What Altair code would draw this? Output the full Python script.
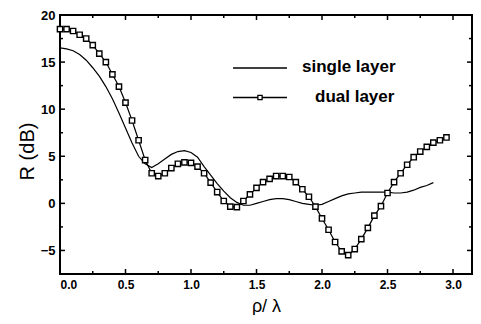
import altair as alt
import pandas as pd

# ---- data ----
x_dual = [0.00, 0.05, 0.10, 0.15, 0.20, 0.25, 0.30, 0.35, 0.40, 0.45,
          0.50, 0.55, 0.60, 0.65, 0.70, 0.75, 0.80, 0.85, 0.90, 0.95,
          1.00, 1.05, 1.10, 1.15, 1.20, 1.25, 1.30, 1.35, 1.40, 1.45,
          1.50, 1.55, 1.60, 1.65, 1.70, 1.75, 1.80, 1.85, 1.90, 1.95,
          2.00, 2.05, 2.10, 2.15, 2.20, 2.25, 2.30, 2.35, 2.40, 2.45,
          2.50, 2.55, 2.60, 2.65, 2.70, 2.75, 2.80, 2.85, 2.90, 2.95]
r_dual = [18.5, 18.5, 18.3, 17.9, 17.5, 16.8, 15.9, 15.0, 13.7, 12.4,
          10.7, 8.8, 6.7, 4.6, 3.2, 2.9, 3.2, 3.75, 4.2, 4.35,
          4.3, 3.9, 3.2, 2.2, 1.2, 0.25, -0.35, -0.4, 0.25, 0.95,
          1.65, 2.25, 2.6, 2.9, 2.9, 2.8, 2.25, 1.5, 0.7, -0.35,
          -1.6, -2.8, -4.1, -5.1, -5.5, -4.85, -3.8, -2.6, -1.3, -0.3,
          1.1, 2.25, 3.2, 4.1, 4.9, 5.5, 6.0, 6.45, 6.7, 7.0]

x_single = [0.00, 0.05, 0.10, 0.15, 0.20, 0.25, 0.30, 0.35, 0.40, 0.45,
            0.50, 0.55, 0.60, 0.65, 0.70, 0.75, 0.80, 0.85, 0.90, 0.95,
            1.00, 1.05, 1.10, 1.15, 1.20, 1.25, 1.30, 1.35, 1.40, 1.45,
            1.50, 1.55, 1.60, 1.65, 1.70, 1.75, 1.80, 1.85, 1.90, 1.95,
            2.00, 2.05, 2.10, 2.15, 2.20, 2.25, 2.30, 2.35, 2.40, 2.45,
            2.50, 2.55, 2.60, 2.65, 2.70, 2.75, 2.80, 2.85]
r_single = [16.5, 16.4, 16.2, 15.8, 15.2, 14.4, 13.5, 12.4, 11.1, 9.6,
            8.0, 6.4, 5.0, 4.2, 3.8, 4.2, 4.7, 5.2, 5.5, 5.6,
            5.4, 4.9, 3.9, 3.0, 2.1, 1.3, 0.6, 0.1, -0.2, -0.2,
            0.0, 0.2, 0.4, 0.5, 0.5, 0.4, 0.2, 0.0, -0.1, -0.2,
            -0.1, 0.2, 0.5, 0.8, 1.0, 1.1, 1.2, 1.2, 1.2, 1.2,
            1.2, 1.1, 1.1, 1.2, 1.4, 1.7, 1.9, 2.2]

x_major = [0.0, 0.5, 1.0, 1.5, 2.0, 2.5, 3.0]
x_minor = [0.25, 0.75, 1.25, 1.75, 2.25, 2.75]
y_major = [-5, 0, 5, 10, 15, 20]
y_minor = [-2.5, 2.5, 7.5, 12.5, 17.5]

legend_labels = ["single layer", "dual layer"]

W, H = 412, 259
FONT = "Liberation Sans"

xscale = alt.Scale(domain=[0, 3.145], nice=False, zero=False)
yscale = alt.Scale(domain=[-7.5, 20], nice=False, zero=False)

df_s = pd.DataFrame({"x": x_single, "r": r_single})
df_d = pd.DataFrame({"x": x_dual, "r": r_dual})

xaxis = alt.Axis(values=x_major, format=".1f", ticks=False, domain=False, grid=False,
                 labelFont=FONT, labelFontSize=12, labelFontWeight="bold", labelColor="black",
                 labelPadding=5, title="ρ/ λ", titleFont=FONT, titleFontSize=18,
                 titleFontWeight="normal", titleColor="black",
                 titleBaseline="alphabetic", titleY=37.5)
yaxis = alt.Axis(values=y_major, ticks=False, domain=False, grid=False,
                 labelFont=FONT, labelFontSize=13, labelFontWeight="bold", labelColor="black",
                 labelPadding=5, title="R (dB)", titleFont=FONT, titleFontSize=20,
                 titleFontWeight="normal", titleColor="black",
                 titleBaseline="alphabetic", titleX=-27, titleY=136)

base_single = alt.Chart(df_s).mark_line(color="black", strokeWidth=1.2).encode(
    x=alt.X("x:Q", scale=xscale, axis=xaxis),
    y=alt.Y("r:Q", scale=yscale, axis=yaxis),
)
dual_line = alt.Chart(df_d).mark_line(color="black", strokeWidth=1.2).encode(
    x=alt.X("x:Q", scale=xscale), y=alt.Y("r:Q", scale=yscale))
dual_pts = alt.Chart(df_d).mark_point(shape="square", size=28, filled=False,
                                       color="black", fill="white", fillOpacity=1,
                                       strokeWidth=1.4, opacity=1).encode(
    x=alt.X("x:Q", scale=xscale), y=alt.Y("r:Q", scale=yscale))

# inward ticks
def xticks(vals, length, top):
    d = pd.DataFrame({"v": vals})
    if top:
        return alt.Chart(d).mark_rule(color="black", strokeWidth=1.5).encode(
            x=alt.X("v:Q", scale=xscale), y=alt.value(0), y2=alt.value(length))
    return alt.Chart(d).mark_rule(color="black", strokeWidth=1.5).encode(
        x=alt.X("v:Q", scale=xscale), y=alt.value(H), y2=alt.value(H - length))

def yticks(vals, length, right):
    d = pd.DataFrame({"v": vals})
    if right:
        return alt.Chart(d).mark_rule(color="black", strokeWidth=1.5).encode(
            y=alt.Y("v:Q", scale=yscale), x=alt.value(W), x2=alt.value(W - length))
    return alt.Chart(d).mark_rule(color="black", strokeWidth=1.5).encode(
        y=alt.Y("v:Q", scale=yscale), x=alt.value(0), x2=alt.value(length))

ticks = [xticks(x_major, 5, False), xticks(x_minor, 3, False),
         xticks(x_major, 5, True), xticks(x_minor, 3, True),
         yticks(y_major, 5, False), yticks(y_minor, 3, False),
         yticks(y_major, 5, True), yticks(y_minor, 3, True)]

# legend (drawn manually)
one = pd.DataFrame({"k": [0]})
leg_single_line = alt.Chart(one).mark_rule(color="black", strokeWidth=1.3).encode(
    x=alt.value(173), x2=alt.value(227), y=alt.value(53))
leg_dual_line = alt.Chart(one).mark_rule(color="black", strokeWidth=1.6).encode(
    x=alt.value(173), x2=alt.value(227), y=alt.value(82.5))
leg_dual_pt = alt.Chart(one).mark_point(
    shape="square", size=18, filled=False, color="black", fill="white", fillOpacity=1,
    strokeWidth=1.3, opacity=1).encode(x=alt.value(200), y=alt.value(82.5))
leg_t1 = alt.Chart(pd.DataFrame({"t": [legend_labels[0]]})).mark_text(
    align="left", baseline="alphabetic", font=FONT, fontSize=17, fontWeight="bold",
    color="black").encode(text="t:N", x=alt.value(242), y=alt.value(57))
leg_t2 = alt.Chart(pd.DataFrame({"t": [legend_labels[1]]})).mark_text(
    align="left", baseline="alphabetic", font=FONT, fontSize=17, fontWeight="bold",
    color="black").encode(text="t:N", x=alt.value(255), y=alt.value(86.5))

chart = alt.layer(base_single, dual_line, dual_pts, *ticks,
                  leg_single_line, leg_dual_line, leg_dual_pt, leg_t1, leg_t2).properties(
    width=W, height=H,
    autosize=alt.AutoSizeParams(type="none"),
    padding={"left": 52, "top": 7, "right": 1, "bottom": 41},
    background="white",
).configure_view(stroke="black", strokeWidth=2)

chart.save("out.html", embed_options={"renderer": "svg", "actions": False})
